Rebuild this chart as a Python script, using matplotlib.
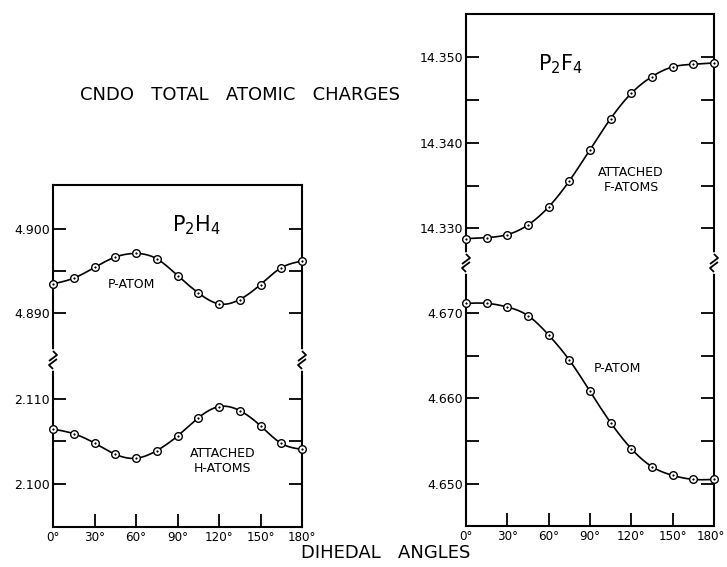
import numpy as np
import matplotlib
matplotlib.use("Agg")
import matplotlib.pyplot as plt
from matplotlib.lines import Line2D
from matplotlib.transforms import ScaledTranslation

# ---------------- data ----------------
angles = [0, 15, 30, 45, 60, 75, 90, 105, 120, 135, 150, 165, 180]

p2h4_p_atom = [4.89345, 4.89413, 4.89540, 4.89663, 4.89706, 4.89643, 4.89444,
               4.89238, 4.89107, 4.89159, 4.89337, 4.89536, 4.89615]
p2h4_h_atoms = [2.10645, 2.10590, 2.10480, 2.10348, 2.10301, 2.10391, 2.10563,
                2.10777, 2.10910, 2.10863, 2.10684, 2.10477, 2.10406]

p2f4_f_atoms = [14.32879, 14.32891, 14.32926, 14.33039, 14.33250, 14.33554, 14.33920,
                14.34283, 14.34579, 14.34774, 14.34887, 14.34918, 14.34934]
p2f4_p_atom = [4.67109, 4.67109, 4.67066, 4.66965, 4.66739, 4.66447, 4.66082,
               4.65716, 4.65412, 4.65202, 4.65101, 4.65054, 4.65054]

x_ticks = [0, 30, 60, 90, 120, 150, 180]
x_tick_labels = ["0°", "30°", "60°", "90°", "120°", "150°", "180°"]

left_upper_ticks = [4.900, 4.895, 4.890]
left_upper_labels = ["4.900", "", "4.890"]
left_lower_ticks = [2.110, 2.105, 2.100]
left_lower_labels = ["2.110", "", "2.100"]
right_upper_ticks = [14.350, 14.345, 14.340, 14.335, 14.330]
right_upper_labels = ["14.350", "", "14.340", "", "14.330"]
right_lower_ticks = [4.670, 4.665, 4.660, 4.655, 4.650]
right_lower_labels = ["4.670", "", "4.660", "", "4.650"]

title_text = "CNDO   TOTAL   ATOMIC   CHARGES"
xlabel_text = "DIHEDAL   ANGLES"


def natural_spline(x, y, n=400):
    x = np.asarray(x, float)
    y = np.asarray(y, float)
    m = len(x)
    h = np.diff(x)
    A = np.zeros((m, m))
    r = np.zeros(m)
    A[0, 0] = 1
    A[-1, -1] = 1
    for i in range(1, m - 1):
        A[i, i - 1] = h[i - 1]
        A[i, i] = 2 * (h[i - 1] + h[i])
        A[i, i + 1] = h[i]
        r[i] = 3 * ((y[i + 1] - y[i]) / h[i] - (y[i] - y[i - 1]) / h[i - 1])
    c = np.linalg.solve(A, r)
    b = np.zeros(m - 1)
    d = np.zeros(m - 1)
    for i in range(m - 1):
        b[i] = (y[i + 1] - y[i]) / h[i] - h[i] * (2 * c[i] + c[i + 1]) / 3
        d[i] = (c[i + 1] - c[i]) / (3 * h[i])
    xs = np.linspace(x[0], x[-1], n)
    idx = np.clip(np.searchsorted(x, xs) - 1, 0, m - 2)
    dx = xs - x[idx]
    ys = y[idx] + b[idx] * dx + c[idx] * dx ** 2 + d[idx] * dx ** 3
    return xs, ys


W, H = 727, 567
fig = plt.figure(figsize=(W / 100, H / 100), dpi=100)
plt.rcParams['font.family'] = ['DejaVu Sans']


def px_axes(x0, x1, ytop, ybot):
    return fig.add_axes([x0 / W, 1 - ybot / H, (x1 - x0) / W, (ybot - ytop) / H])


def style(ax, yt, yl, ylim, lower):
    ax.set_xlim(0, 180)
    ax.set_ylim(*ylim)
    ax.set_yticks(yt)
    ax.set_yticklabels(yl)
    for s in ax.spines.values():
        s.set_linewidth(1.5)
    ax.tick_params(axis='y', direction='in', length=9.5, width=1.3, left=True,
                   right=True, labelsize=9, pad=2)
    if lower:
        ax.spines['top'].set_visible(False)
        ax.set_xticks(x_ticks)
        ax.set_xticklabels(x_tick_labels)
        ax.tick_params(axis='x', direction='in', length=9.5, width=1.3,
                       labelsize=8.6, pad=3, top=False)
    else:
        ax.spines['bottom'].set_visible(False)
        ax.set_xticks([])


def plot_series(ax, y):
    xs, ys = natural_spline(angles, y)
    ax.plot(xs, ys, color='black', lw=1.2, clip_on=False, zorder=3)
    ax.plot(angles, y, 'o', ms=5.5, mfc='white', mec='black', mew=1.0,
            clip_on=False, zorder=4)
    ax.plot(angles, y, 'o', ms=1.2, mfc='black', mec='black', mew=0.3,
            clip_on=False, zorder=5)


# Left panel (P2H4)
axLU = px_axes(53, 302, 185, 360)
axLL = px_axes(53, 302, 360, 527)
style(axLU, left_upper_ticks, left_upper_labels, (4.8844, 4.9052), False)
style(axLL, left_lower_ticks, left_lower_labels, (2.0949, 2.1146), True)
plot_series(axLU, p2h4_p_atom)
plot_series(axLL, p2h4_h_atoms)

# Right panel (P2F4)
axRU = px_axes(466, 714, 14, 263)
axRL = px_axes(466, 714, 263, 526)
style(axRU, right_upper_ticks, right_upper_labels, (14.32594, 14.35506), False)
style(axRL, right_lower_ticks, right_lower_labels, (4.6451, 4.6758), True)
plot_series(axRU, p2f4_f_atoms)
plot_series(axRL, p2f4_p_atom)

# nudge last right-panel tick label so it stays inside the canvas
last = axRL.get_xticklabels()[-1]
last.set_transform(last.get_transform() + ScaledTranslation(-2.5 / 72, 0, fig.dpi_scale_trans))


def break_mark(xp, yp):
    def fx(v):
        return v / W

    def fy(v):
        return 1 - v / H
    fig.add_artist(Line2D([fx(xp), fx(xp)], [fy(yp - 8), fy(yp + 8)],
                          color='white', lw=4, zorder=10))
    fig.add_artist(Line2D([fx(xp), fx(xp + 4), fx(xp - 4)],
                          [fy(yp - 9), fy(yp - 5), fy(yp + 1)],
                          color='black', lw=1.3, zorder=11, solid_capstyle='butt'))
    fig.add_artist(Line2D([fx(xp + 4), fx(xp - 4), fx(xp)],
                          [fy(yp - 1), fy(yp + 5), fy(yp + 9)],
                          color='black', lw=1.3, zorder=11, solid_capstyle='butt'))


for xp, yp in [(53, 360), (302, 360), (466, 263), (714, 263)]:
    break_mark(xp, yp)

# texts
fig.text(240 / W, 1 - 95 / H, title_text, ha='center', va='center', fontsize=13)
fig.text(386 / W, 1 - 553 / H, xlabel_text, ha='center', va='center', fontsize=13)

axLU.text(0.575, 0.77, r"P$_2$H$_4$", transform=axLU.transAxes, ha='center',
          va='center', fontsize=15)
axRU.text(0.383, 0.80, r"P$_2$F$_4$", transform=axRU.transAxes, ha='center',
          va='center', fontsize=15)
axLU.text(0.315, 0.43, "P-ATOM", transform=axLU.transAxes, ha='center',
          va='center', fontsize=9)
axLL.text(0.68, 0.395, "ATTACHED\nH-ATOMS", transform=axLL.transAxes, ha='center',
          va='center', fontsize=9, linespacing=1.15)
axRU.text(0.665, 0.333, "ATTACHED\nF-ATOMS", transform=axRU.transAxes, ha='center',
          va='center', fontsize=9, linespacing=1.15)
axRL.text(0.61, 0.597, "P-ATOM", transform=axRL.transAxes, ha='center',
          va='center', fontsize=9)

fig.savefig("out.png", dpi=100)
